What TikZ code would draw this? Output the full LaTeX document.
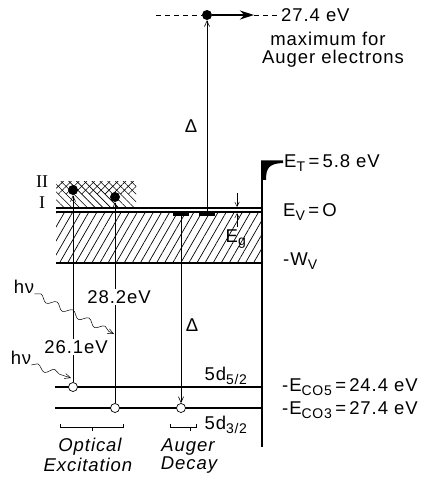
\documentclass[tikz,border=0pt]{standalone}
\usepackage{fontspec}
\setmainfont{Liberation Sans}
\newfontfamily\lblfont[LetterSpace=5]{Liberation Sans}
\newfontfamily\romfont{Liberation Serif}
\usepackage{tikz}
\usetikzlibrary{arrows.meta,patterns.meta,decorations.pathmorphing}

\newcommand{\sbs}[1]{\textsubscript{\fontsize{14}{15}\selectfont #1}}

\begin{document}
\begin{tikzpicture}[
  x=1pt, y=-1pt,
  lbl/.style={font=\fontsize{18.5}{20}\selectfont\lblfont, inner sep=0pt},
  itl/.style={font=\fontsize{18.5}{20}\selectfont\lblfont\itshape, inner sep=0pt},
  level/.style={line width=1.2pt},
  wall/.style={line width=1.6pt},
  trans/.style={line width=0.6pt, -{Straight Barb[length=2mm,width=1.8mm]}},
  photon/.style={line width=0.5pt, decorate,
    decoration={snake, amplitude=3pt, segment length=18pt, post length=5pt},
    -{Straight Barb[length=2mm,width=1.8mm]}},
  elec/.style={circle, fill, minimum size=10pt, inner sep=0pt},
  hole/.style={circle, draw, line width=0.7pt, fill=white, minimum size=9pt, inner sep=0pt},
  bar/.style={fill, minimum width=16pt, minimum height=5pt, inner sep=0pt},
  brace/.style={line width=0.5pt}
]
\useasboundingbox (0,0) rectangle (423,478);

% surface states and valence band
\fill[pattern={Lines[angle=-45,distance=5.5pt,line width=0.6pt]}] (56,182) rectangle (136,208);
\fill[pattern={Lines[angle=45,distance=5.5pt,line width=0.6pt]}] (56,182) rectangle (136,193);
\fill[pattern={Lines[angle=60,distance=7pt,line width=0.7pt]}] (56,213) rectangle (262,263);
\draw[level] (56,208) -- (262,208);
\draw[level] (56,212) -- (262,212);
\draw[level] (56,263) -- (262,263);
\draw[level] (55,387) -- (262,387);
\draw[level] (55,408) -- (262,408);

% vacuum wall
\draw[wall] (262,163) -- (262,447);
\fill (261.2,160.5) -- (283,160.5) -- (283,163) .. controls (269,163.5) and (266,168) .. (266,180) -- (261.2,180) -- cycle;

% electrons and holes
\node[elec] (e1) at (73,190) {};
\node[elec] (e2) at (115,197) {};
\node[elec] (top) at (207,15) {};
\node[bar] (b1) at (181,213.5) {};
\node[bar] (b2) at (207,213.5) {};
\node[hole] (h1) at (73,387) {};
\node[hole] (h2) at (115,408) {};
\node[hole] (h3) at (181,408) {};

\draw[trans] (h1) -- (e1);
\draw[trans] (h2) -- (e2);
\draw[trans] (b1) -- (h3);
\draw[trans] (b2) -- (top);

% top level
\coordinate (dl) at (156,15);
\coordinate (ar) at (254,15);
\node[lbl, anchor=west] (t274) at (281,15) {27.4 eV};
\node[lbl] (tmax) at (328,39) {maximum for};
\node[lbl] (tauger) at (333,59) {Auger electrons};
\draw[dashed, dash pattern=on 5pt off 4pt, line width=0.6pt] (dl) -- (top);
\draw[line width=1.4pt, -{Stealth[length=5mm,width=3.2mm]}] (top) -- (ar);
\draw[dashed, dash pattern=on 5pt off 4pt, line width=0.6pt] (ar) -- (t274);

% band gap marks
\coordinate (ga) at (237,193);
\coordinate (gb) at (237,207);
\coordinate (gc) at (237,227);
\coordinate (gd) at (237,213);
\draw[line width=0.5pt, -{Straight Barb[length=1.6mm,width=1.6mm]}] (ga) -- (gb);
\draw[line width=0.5pt, -{Straight Barb[length=1.6mm,width=1.6mm]}] (gc) -- (gd);

% labels
\node[lbl] (dtop) at (191,126) {Δ};
\node[lbl] (dlow) at (192,325) {Δ};
\node[lbl, anchor=west] (et) at (284,163) {E\sbs{T}\,=\,5.8 eV};
\node[lbl, anchor=west] (ev) at (283,212) {E\sbs{V}\,=\,O};
\node[lbl, anchor=west] (wv) at (283,261) {-W\sbs{V}};
\node[lbl] (eg) at (236,239) {E\sbs{g}};
\node[font=\fontsize{18}{20}\selectfont\romfont, inner sep=0pt] (two) at (42,182) {II};
\node[font=\fontsize{18}{20}\selectfont\romfont, inner sep=0pt] (one) at (42,203) {I};
\node[lbl, fill=white, inner sep=1pt] (e282) at (119,297) {28.2eV};
\node[lbl, fill=white, inner sep=1pt] (e261) at (76,347) {26.1eV};
\node[lbl] (hv1) at (24,287) {hν};
\node[lbl] (hv2) at (21,358) {hν};
\node[lbl] (d52) at (226,376) {5d\sbs{5/2}};
\node[lbl] (d32) at (226,425) {5d\sbs{3/2}};
\node[lbl, anchor=west] (ec5) at (282,387) {-E\sbs{CO5}\,=\,24.4 eV};
\node[lbl, anchor=west] (ec3) at (282,410) {-E\sbs{CO3}\,=\,27.4 eV};

% photons
\coordinate (p1) at (114,334);
\coordinate (p2) at (71,378);
\draw[photon] (hv1.south east) -- (p1);
\draw[photon] (hv2.south east) -- (p2);

% brackets
\draw[brace] (60,424) -- (60,427) -- (123,427) -- (123,424) (92,427) -- (92,431);
\draw[brace] (170,424) -- (170,427) -- (196,427) -- (196,424) (190,427) -- (190,431);
\node[itl] (opt) at (90,447) {Optical};
\node[itl] (exc) at (88,465) {Excitation};
\node[itl] (aug) at (188,447) {Auger};
\node[itl] (dec) at (189,465) {Decay};
\end{tikzpicture}
\end{document}
